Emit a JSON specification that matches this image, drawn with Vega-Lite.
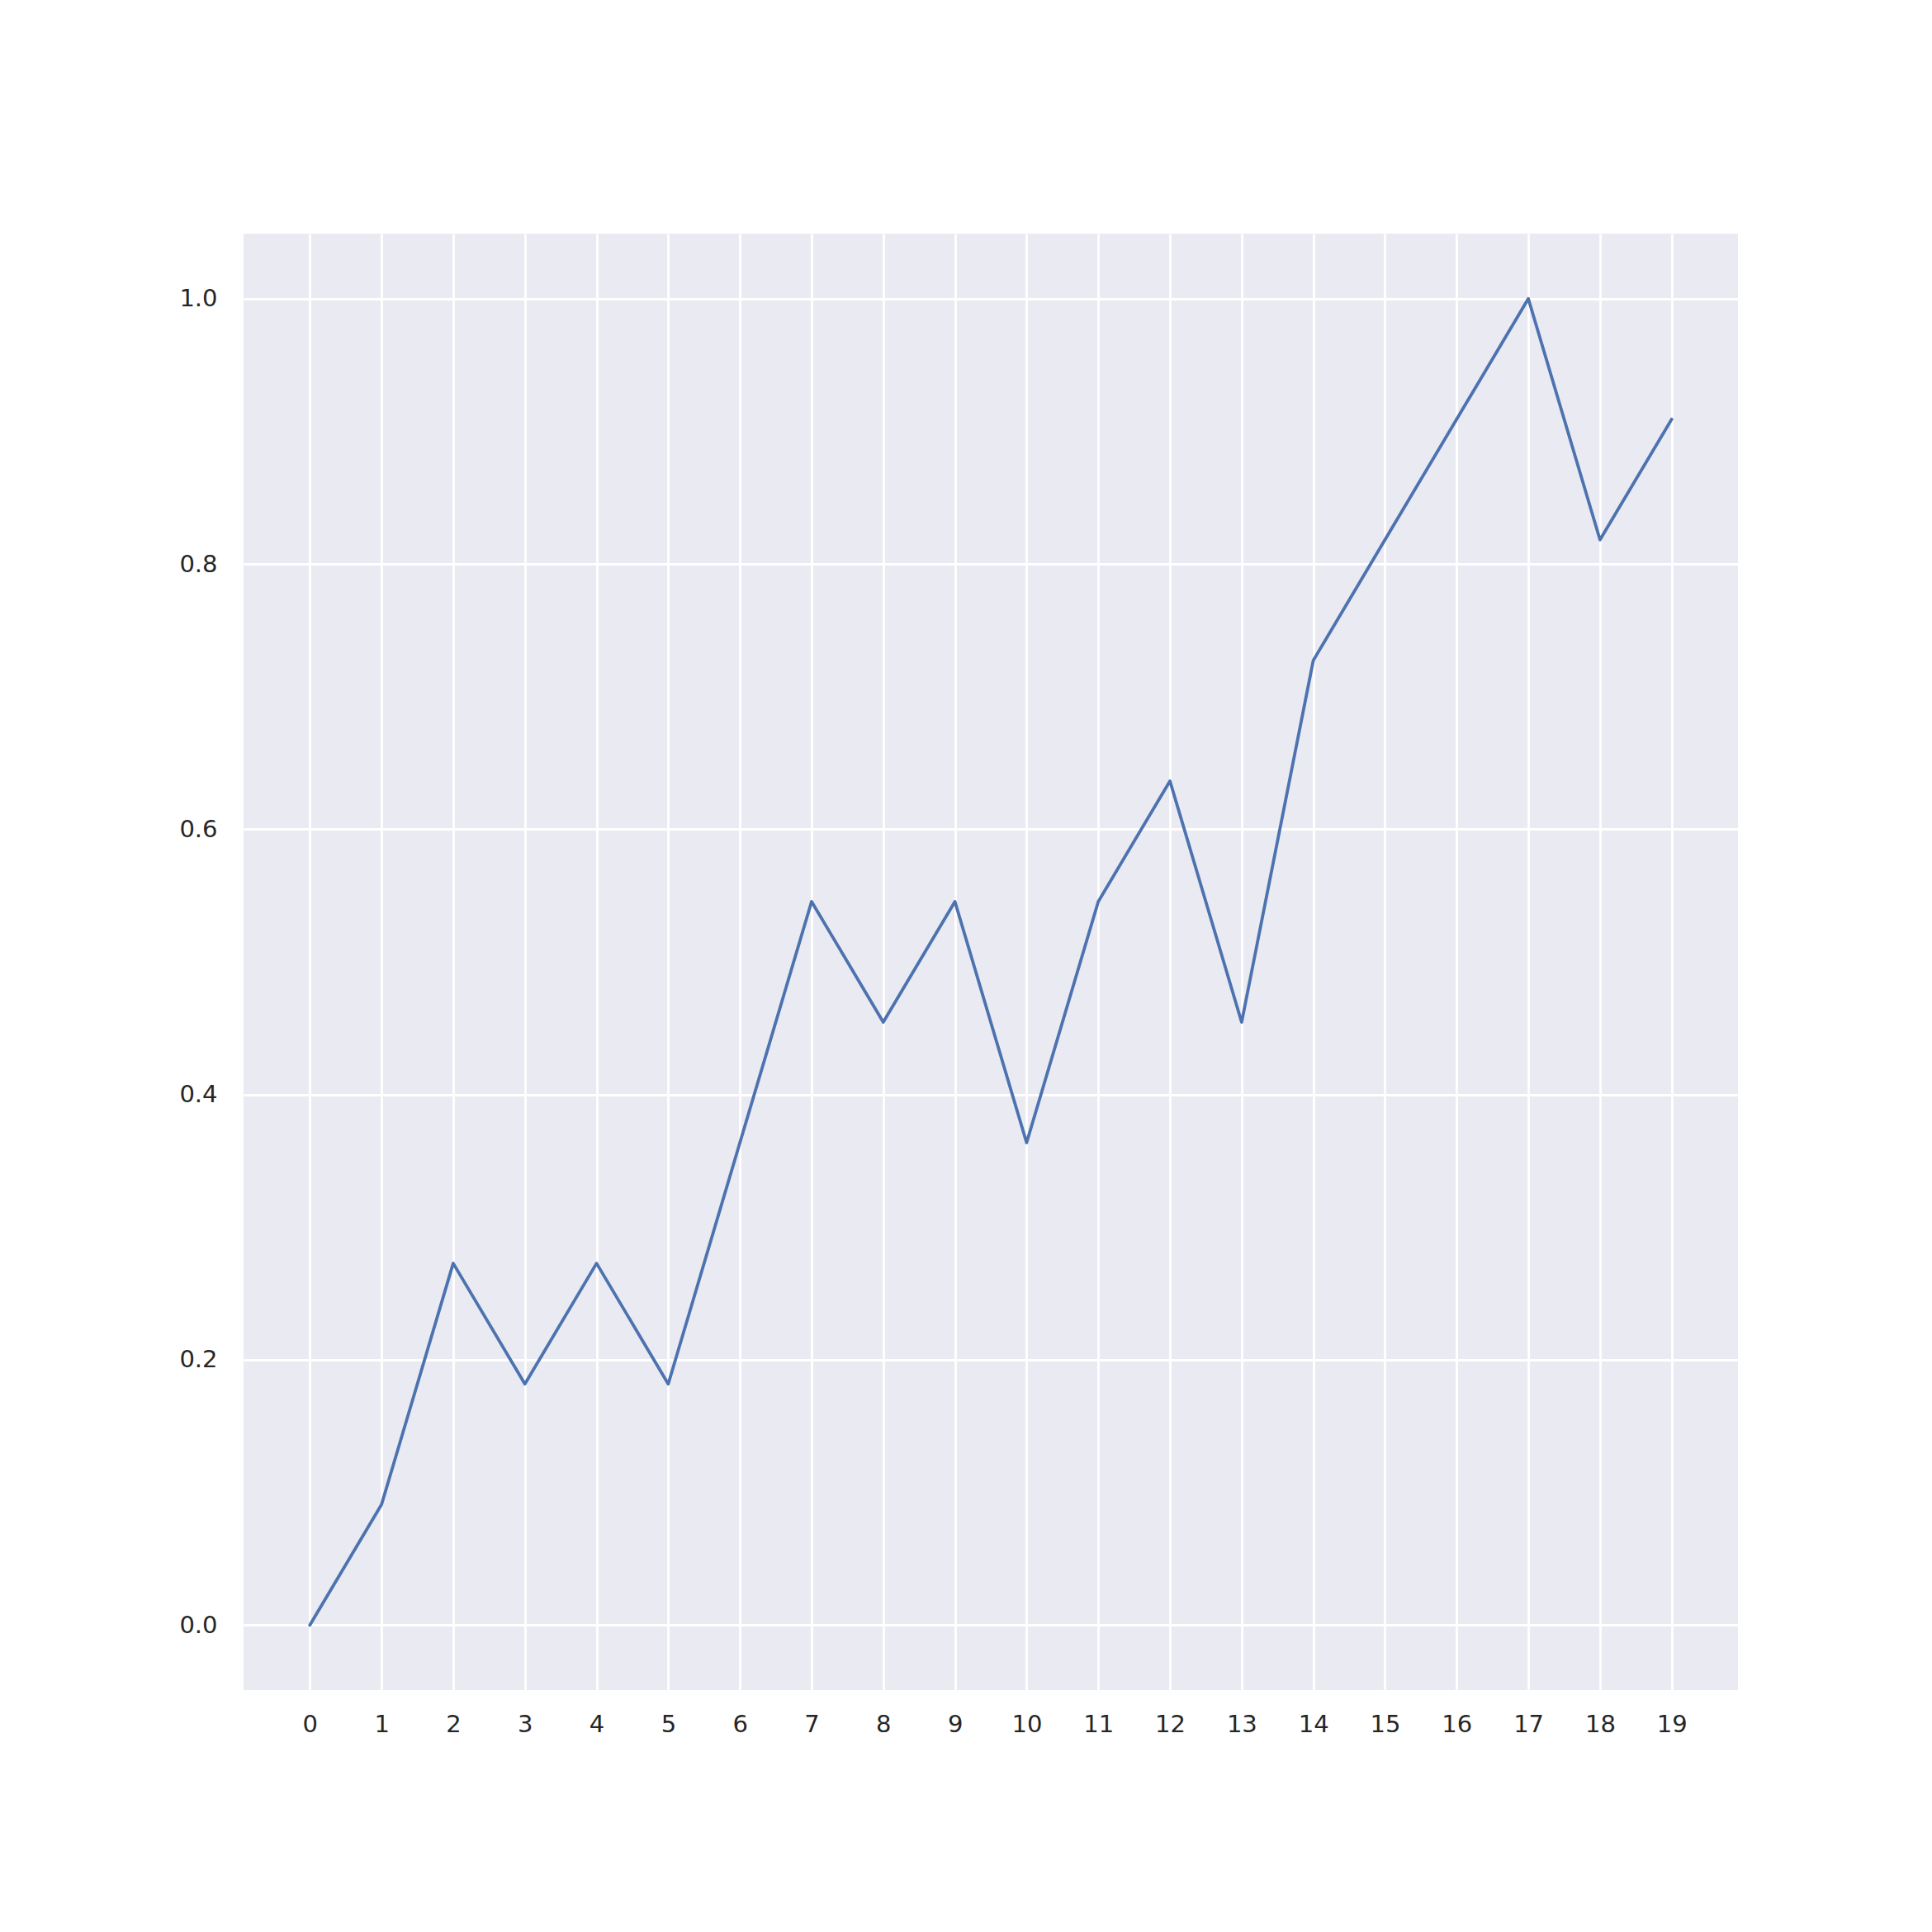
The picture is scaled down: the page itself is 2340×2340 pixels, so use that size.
{
  "$schema": "https://vega.github.io/schema/vega-lite/v6.json",
  "autosize": "none",
  "width": 1810,
  "height": 1764,
  "padding": {"left": 295, "top": 283, "right": 235, "bottom": 293},
  "background": "white",
  "view": {"fill": "#EAEAF2", "stroke": null},
  "data": {"values": [
    {"x": 0, "y": 0},
    {"x": 1, "y": 0.090909},
    {"x": 2, "y": 0.272727},
    {"x": 3, "y": 0.181818},
    {"x": 4, "y": 0.272727},
    {"x": 5, "y": 0.181818},
    {"x": 6, "y": 0.363636},
    {"x": 7, "y": 0.545455},
    {"x": 8, "y": 0.454545},
    {"x": 9, "y": 0.545455},
    {"x": 10, "y": 0.363636},
    {"x": 11, "y": 0.545455},
    {"x": 12, "y": 0.636364},
    {"x": 13, "y": 0.454545},
    {"x": 14, "y": 0.727273},
    {"x": 15, "y": 0.818182},
    {"x": 16, "y": 0.909091},
    {"x": 17, "y": 1.0},
    {"x": 18, "y": 0.818182},
    {"x": 19, "y": 0.909091}
  ]},
  "mark": {"type": "line", "color": "#4C72B0", "strokeWidth": 3.8, "strokeJoin": "round", "strokeCap": "round"},
  "encoding": {
    "x": {
      "field": "x", "type": "quantitative",
      "scale": {"domain": [-0.925, 19.925], "nice": false, "zero": false},
      "axis": {"title": null, "values": [0,1,2,3,4,5,6,7,8,9,10,11,12,13,14,15,16,17,18,19], "format": "d",
        "domain": false, "ticks": false, "tickSize": 0, "grid": true, "gridColor": "white", "gridWidth": 2.8,
        "labelFont": "DejaVu Sans", "labelFontSize": 29, "labelColor": "#262626", "labelPadding": 27, "labelBaseline": "top", "labelFlush": false}
    },
    "y": {
      "field": "y", "type": "quantitative",
      "scale": {"domain": [-0.049, 1.049], "nice": false, "zero": false},
      "axis": {"title": null, "values": [0, 0.2, 0.4, 0.6, 0.8, 1.0], "format": ".1f",
        "domain": false, "ticks": false, "tickSize": 0, "grid": true, "gridColor": "white", "gridWidth": 2.8,
        "labelFont": "DejaVu Sans", "labelFontSize": 29, "labelColor": "#262626", "labelPadding": 32, "labelFlush": false}
    }
  }
}
